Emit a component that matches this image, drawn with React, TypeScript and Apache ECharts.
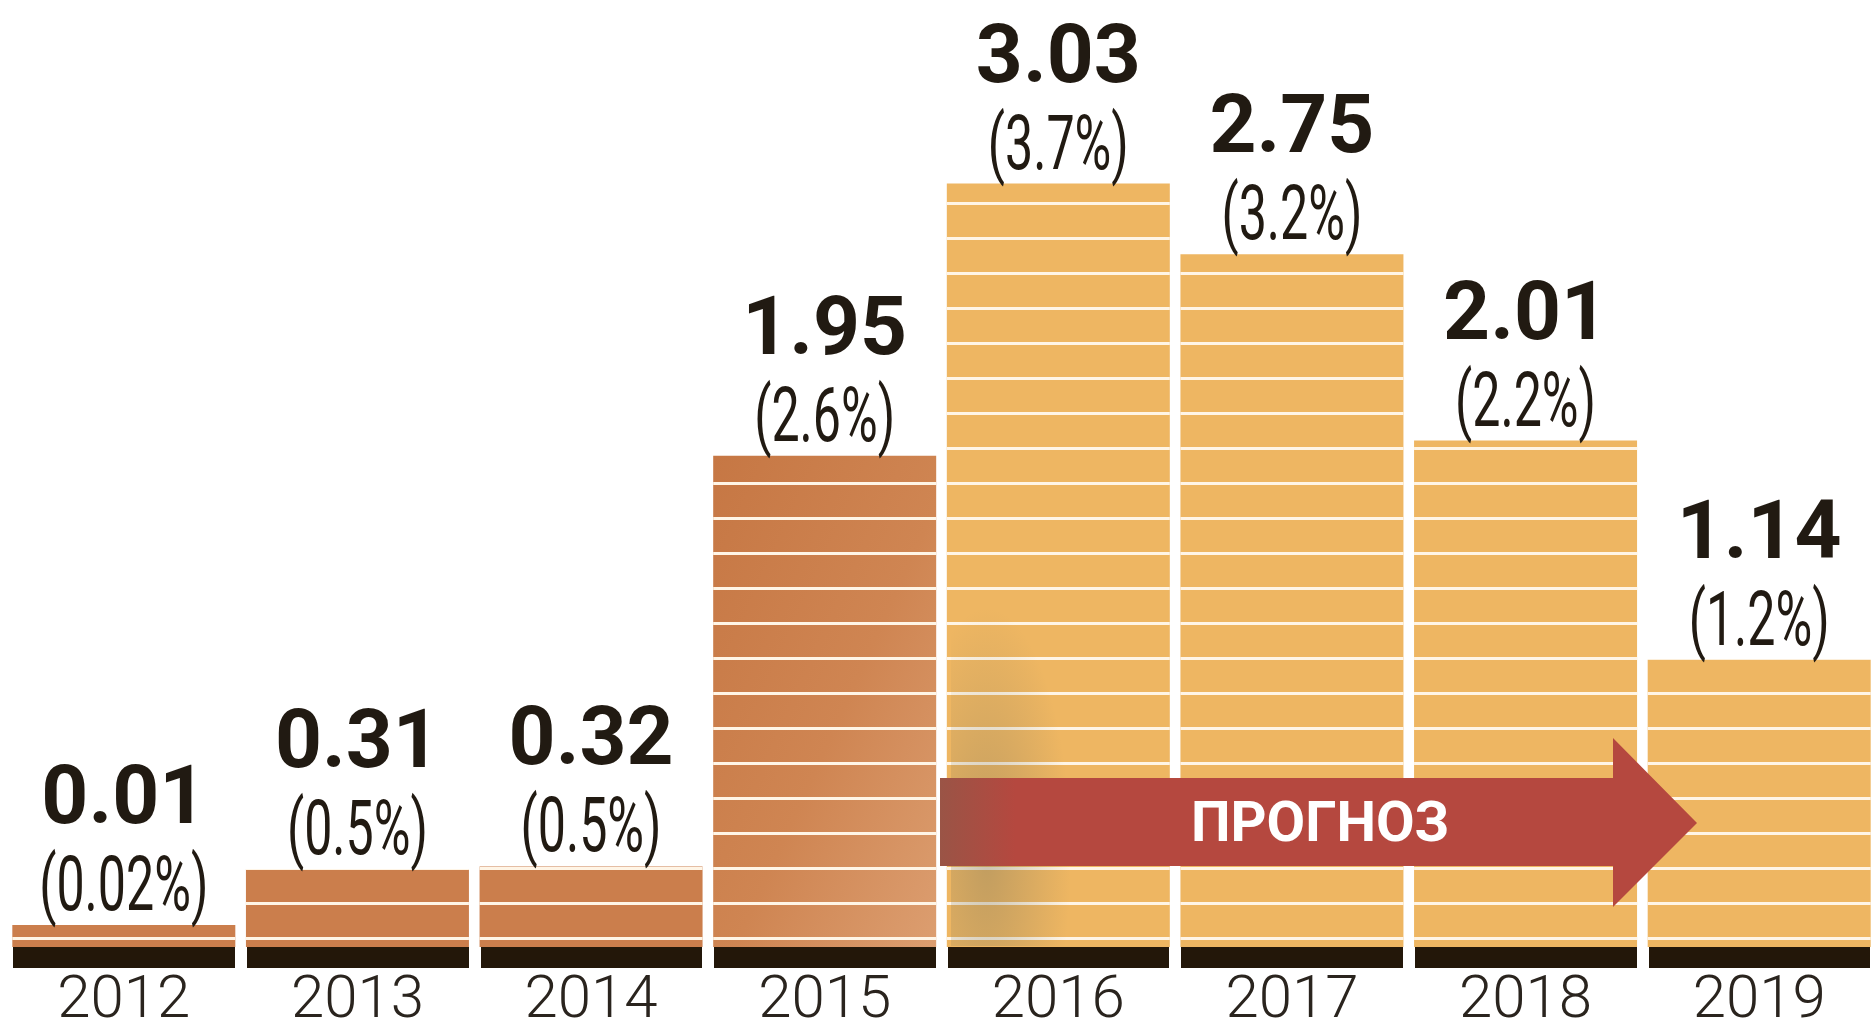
import React, { useEffect, useRef } from "react";
import * as echarts from "echarts";

// ---- data ----
const years: string[] = ["2012", "2013", "2014", "2015", "2016", "2017", "2018", "2019"];
const values: number[] = [0.01, 0.31, 0.32, 1.95, 3.03, 2.75, 2.01, 1.14];
const percents: number[] = [0.02, 0.5, 0.5, 2.6, 3.7, 3.2, 2.2, 1.2];
const forecastFromYear = "2016";
const forecastLabel = "ПРОГНОЗ";

// ---- styles ----
const W = 1876;
const H = 1033;
const PAST_COLOR = "#CB7E4C";
const FORECAST_COLOR = "#EEB662";
const BASE_COLOR = "#231709";
const STRIPE_COLOR = "#FFF5E6";
const TEXT_COLOR = "#211A12";
const ARROW_COLOR = "#B5483F";
const BAR_MIN_H = 22;

export default function App() {
  const ref = useRef<HTMLDivElement>(null);

  useEffect(() => {
    document.body.style.margin = "0";
    if (!ref.current) return;
    const chart = echarts.init(ref.current, undefined, { renderer: "svg", width: W, height: H });

    const forecastIdx = years.indexOf(forecastFromYear);

    const barData = values.map((v, i) => {
      let color: any = i >= forecastIdx ? FORECAST_COLOR : PAST_COLOR;
      if (i === forecastIdx - 1) {
        color = new echarts.graphic.LinearGradient(0, 0, 1, 1, [
          { offset: 0, color: "#C67744" },
          { offset: 0.55, color: "#CF8552" },
          { offset: 1, color: "#DC9E70" },
        ]);
      }
      return { value: v, itemStyle: { color } };
    });

    const option: any = {
      animation: false,
      backgroundColor: "#ffffff",
      grid: { left: 7, width: 1875, top: 40, bottom: 86, containLabel: false },
      xAxis: [
        {
          type: "category",
          data: years,
          position: "bottom",
          offset: 10.5,
          axisLine: { show: true, onZero: false, lineStyle: { color: BASE_COLOR, width: 21, cap: "butt" } },
          axisTick: { show: false },
          axisLabel: {
            show: true,
            margin: 9,
            color: "#2A241E",
            fontFamily: "Roboto, sans-serif",
            fontWeight: 300,
            fontSize: 60,
            lineHeight: 60,
          },
          splitLine: { show: false },
        },
        {
          type: "category",
          data: years,
          position: "bottom",
          offset: 0,
          z: 3,
          axisLine: { show: false, onZero: false },
          axisTick: { show: true, interval: 0, length: 21, lineStyle: { color: "#ffffff", width: 12 } },
          axisLabel: { show: false },
          splitLine: { show: false },
        },
      ],
      yAxis: {
        type: "value",
        min: 0,
        max: 3.6,
        show: false,
        splitLine: { show: false },
      },
      series: [
        {
          type: "bar",
          xAxisIndex: 0,
          data: barData,
          barWidth: 223,
          barMinHeight: BAR_MIN_H,
          itemStyle: {
            decal: {
              symbol: "rect",
              symbolSize: 1,
              symbolKeepAspect: false,
              color: STRIPE_COLOR,
              dashArrayX: [512, 0],
              dashArrayY: [0, 27, 3, 5],
              rotation: 0,
            },
          },
          label: {
            show: true,
            position: "top",
            distance: 89,
            formatter: (p: any) => values[p.dataIndex].toFixed(2),
            fontFamily: "Roboto, sans-serif",
            fontWeight: "bold",
            fontSize: 82,
            lineHeight: 82,
            color: TEXT_COLOR,
          },
        },
      ],
    };

    chart.setOption(option);

    // percentage captions, placed through the chart's own scales
    const pctTexts = values.map((v, i) => {
      const [cx, yTop] = chart.convertToPixel({ seriesIndex: 0 }, [i, v]) as number[];
      const [, y0] = chart.convertToPixel({ seriesIndex: 0 }, [i, 0]) as number[];
      const barTop = Math.min(yTop, y0 - BAR_MIN_H);
      return {
        type: "text",
        z: 12,
        x: cx,
        y: barTop - 41,
        scaleX: 0.66,
        style: {
          text: `(${percents[i]}%)`,
          fill: TEXT_COLOR,
          font: "400 76px Roboto, sans-serif",
          align: "center",
          verticalAlign: "middle",
        },
      };
    });

    chart.setOption({
      graphic: [
        {
          type: "rect",
          z: 5,
          shape: { x: 951, y: 590, width: 120, height: 356 },
          style: {
            fill: new echarts.graphic.RadialGradient(0.3, 0.75, 0.7, [
              { offset: 0, color: "rgba(120,116,92,0.38)" },
              { offset: 1, color: "rgba(120,116,92,0)" },
            ]),
          },
        },
        {
          type: "polygon",
          z: 10,
          shape: {
            points: [
              [940, 778],
              [1613, 778],
              [1613, 738],
              [1697, 823],
              [1613, 907],
              [1613, 866],
              [940, 866],
            ],
          },
          style: {
            fill: new echarts.graphic.LinearGradient(0, 0, 1, 0, [
              { offset: 0, color: "#9A5446" },
              { offset: 0.1, color: ARROW_COLOR },
              { offset: 1, color: ARROW_COLOR },
            ]),
          },
        },
        {
          type: "text",
          z: 11,
          x: 1320,
          y: 822,
          style: {
            text: forecastLabel,
            fill: "#ffffff",
            font: "bold 56px Roboto, sans-serif",
            align: "center",
            verticalAlign: "middle",
          },
        },
        ...pctTexts,
      ],
    });

    return () => chart.dispose();
  }, []);

  return <div ref={ref} style={{ width: W, height: H }} />;
}
